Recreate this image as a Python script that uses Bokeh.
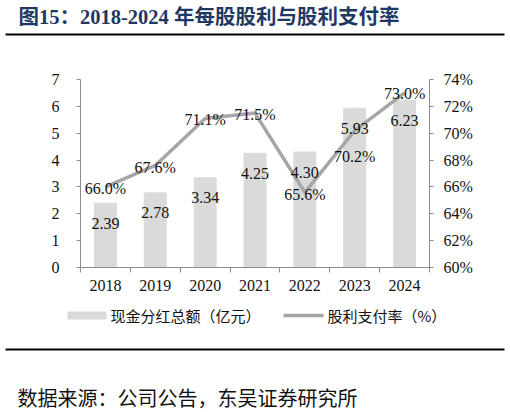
from bokeh.plotting import figure
from bokeh.layouts import column
from bokeh.models import (ColumnDataSource, Range1d, LinearAxis, FixedTicker,
                          PrintfTickFormatter, Label, BoxAnnotation)
from bokeh.core.properties import value
from bokeh.embed import file_html
from bokeh.resources import INLINE

# data
years = ["2018", "2019", "2020", "2021", "2022", "2023", "2024"]
dividend = [2.39, 2.78, 3.34, 4.25, 4.30, 5.93, 6.23]   # 亿元
payout = [66.0, 67.6, 71.1, 71.5, 65.6, 70.2, 73.0]     # %
series_names = ["现金分红总额（亿元）", "股利支付率（%）"]

# small pixel nudges for the % labels (2023 label sits under the line)
pct_dy = [2, 2, 1, 1, 2, 26, 1]

W = 510
bar_color = "#dadada"
line_color = "#a6a6a6"
axis_color = "#8c8c8c"
tick_font = "Liberation Serif"
cjk_font = "Noto Sans CJK SC"


def strip_fig(h):
    # plain full-frame figure for the title / legend / source strips
    f = figure(width=W, height=h, x_range=Range1d(0, W), y_range=Range1d(h, 0),
               output_backend="svg", toolbar_location=None, min_border=0,
               x_axis_location=None, y_axis_location=None, outline_line_color=None)
    f.frame_align = False
    f.xgrid.visible = False
    f.ygrid.visible = False
    return f


# ---- title strip
head = strip_fig(44)
head.add_layout(Label(x=18, y=16, text="图15：2018-2024 年每股股利与股利支付率",
                      text_font="Liberation Serif, Noto Sans CJK SC", text_font_style="bold",
                      text_font_size="20.5px", text_color="#1f3864", text_baseline="middle"))
head.add_layout(BoxAnnotation(left=5, right=504, top=33, bottom=35,
                              fill_color="black", fill_alpha=1, line_color=None))

# ---- main chart
idx = list(range(len(years)))
src = ColumnDataSource(data=dict(
    x=idx,
    div=dividend,
    pct=payout,
    div_label=["%.2f" % v for v in dividend],
    pct_label=["%.1f%%" % v for v in payout],
    dy=pct_dy,
))

p = figure(width=W, height=252, x_range=Range1d(-0.5, 6.5), y_range=Range1d(0, 7),
           output_backend="svg", toolbar_location=None,
           min_border_left=80, min_border_right=81, min_border_top=35, min_border_bottom=29,
           outline_line_color=None)
p.frame_align = False
p.extra_y_ranges = {"pct": Range1d(60, 74)}
p.xgrid.visible = False
p.ygrid.visible = False

bars = p.vbar(x="x", top="div", width=0.44, source=src, color=bar_color)
line = p.line(x="x", y="pct", source=src, y_range_name="pct", color=line_color, line_width=3.5)

p.text(x="x", y="div", text="div_label", source=src, y_offset=20,
       text_align="center", text_baseline="middle",
       text_font=value(tick_font), text_font_size="16px", text_color="#111111")
p.text(x="x", y="pct", text="pct_label", source=src, y_range_name="pct", y_offset="dy",
       text_align="center", text_baseline="middle",
       text_font=value(tick_font), text_font_size="16px", text_color="#111111")

# bottom axis: labels at centres, ticks between categories
xa = p.xaxis[0]
xa.ticker = FixedTicker(ticks=idx, minor_ticks=[i - 0.5 for i in range(len(years) + 1)])
xa.major_label_overrides = {i: y for i, y in zip(idx, years)}
xa.major_tick_out = 0
xa.major_tick_in = 0
xa.minor_tick_out = 5
xa.minor_tick_in = 0
xa.major_label_standoff = 7

ya = p.yaxis[0]
ya.ticker = FixedTicker(ticks=list(range(8)))
ya.major_tick_out = 4
ya.major_tick_in = 0
ya.major_label_standoff = 17

ra = LinearAxis(y_range_name="pct", ticker=FixedTicker(ticks=list(range(60, 75, 2))),
                formatter=PrintfTickFormatter(format="%d%%"))
ra.major_tick_out = 4
ra.major_tick_in = 0
ra.major_label_standoff = 10
p.add_layout(ra, "right")

for ax in [xa, ya, ra]:
    ax.axis_line_color = axis_color
    ax.major_tick_line_color = axis_color
    ax.minor_tick_line_color = axis_color if ax is xa else None
    ax.major_label_text_font = tick_font
    ax.major_label_text_font_size = "16px"
    ax.major_label_text_color = "#111111"
xa.major_tick_line_color = None

# ---- legend strip: swatch + name for each series
leg = strip_fig(38)
leg.add_layout(BoxAnnotation(left=67, right=106, top=15, bottom=23,
                             fill_color=bar_color, fill_alpha=1, line_color=None))
leg.add_layout(Label(x=110, y=19, text=series_names[0], text_font=cjk_font,
                     text_font_size="15px", text_color="#111111", text_baseline="middle"))
leg.add_layout(BoxAnnotation(left=283, right=323, top=17.3, bottom=20.7,
                             fill_color=line_color, fill_alpha=1, line_color=None))
leg.add_layout(Label(x=327, y=19, text=series_names[1], text_font=cjk_font,
                     text_font_size="15px", text_color="#111111", text_baseline="middle"))

# ---- source strip
foot = strip_fig(78)
foot.add_layout(BoxAnnotation(left=5, right=504, top=14, bottom=16,
                              fill_color="black", fill_alpha=1, line_color=None))
foot.add_layout(Label(x=17, y=63, text="数据来源：公司公告，东吴证券研究所",
                      text_font=cjk_font, text_font_size="20px",
                      text_color="#111111", text_baseline="middle"))

page = column(head, p, leg, foot, spacing=0)
open("out.html", "w", encoding="utf-8").write(file_html(page, INLINE))
